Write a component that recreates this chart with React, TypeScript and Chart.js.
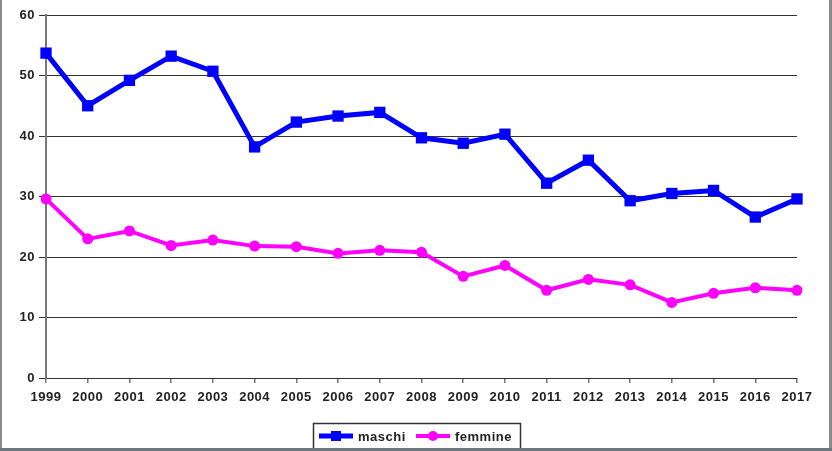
import React, { useEffect, useRef } from "react";
import { Chart, registerables } from "chart.js";

Chart.register(...registerables);

const years = ["1999","2000","2001","2002","2003","2004","2005","2006","2007","2008","2009","2010","2011","2012","2013","2014","2015","2016","2017"];
const maschi = [53.7, 45.0, 49.2, 53.2, 50.7, 38.2, 42.3, 43.3, 43.9, 39.7, 38.8, 40.3, 32.2, 36.0, 29.3, 30.5, 31.0, 26.6, 29.6];
const femmine = [29.6, 23.0, 24.3, 21.9, 22.8, 21.8, 21.7, 20.6, 21.1, 20.8, 16.8, 18.6, 14.5, 16.3, 15.4, 12.5, 14.0, 14.9, 14.5];
const yTicks = { min: 0, max: 60, step: 10 };
const seriesNames = ["maschi", "femmine"];

const FONT = "'Liberation Sans', Arial, sans-serif";

const framePlugin = {
  id: "frameAndLegend",
  beforeDraw(chart: any) {
    const ctx = chart.ctx;
    ctx.letterSpacing = "0.5px";
  },
  afterDraw(chart: any) {
    const ctx = chart.ctx;
    ctx.save();
    // legend box
    ctx.fillStyle = "#fff";
    ctx.fillRect(313, 423, 207, 26);
    ctx.strokeStyle = "#333";
    ctx.lineWidth = 1.5;
    ctx.strokeRect(313.5, 423.5, 207, 26);
    const cy = 436;
    // maschi sample
    ctx.strokeStyle = "#0000ff";
    ctx.lineWidth = 5;
    ctx.beginPath();
    ctx.moveTo(319, cy);
    ctx.lineTo(353, cy);
    ctx.stroke();
    ctx.fillStyle = "#0000ff";
    ctx.fillRect(331, cy - 5, 10, 10);
    // femmine sample
    ctx.strokeStyle = "#ff00ff";
    ctx.lineWidth = 4;
    ctx.beginPath();
    ctx.moveTo(416, cy);
    ctx.lineTo(450, cy);
    ctx.stroke();
    ctx.fillStyle = "#ff00ff";
    ctx.beginPath();
    ctx.arc(433, cy, 5, 0, Math.PI * 2);
    ctx.fill();
    ctx.fillStyle = "#222";
    ctx.font = `bold 13px ${FONT}`;
    ctx.textBaseline = "middle";
    ctx.textAlign = "left";
    ctx.letterSpacing = "0.5px";
    ctx.fillText(seriesNames[0], 358, cy + 1);
    ctx.fillText(seriesNames[1], 455, cy + 1);
    // outer frame
    ctx.fillStyle = "#8a8a8a";
    ctx.fillRect(0, 0, 2, 451);
    ctx.fillRect(829, 0, 3, 451);
    ctx.fillStyle = "#6e7680";
    ctx.fillRect(0, 448, 832, 3);
    ctx.restore();
  },
};

export default function App() {
  const ref = useRef<HTMLCanvasElement>(null);
  useEffect(() => {
    if (!ref.current) return;
    const chart = new Chart(ref.current, {
      type: "line",
      data: {
        labels: years,
        datasets: [
          {
            label: seriesNames[0],
            data: maschi,
            borderColor: "#0000ff",
            backgroundColor: "#0000ff",
            borderWidth: 5,
            pointStyle: "rect",
            pointRadius: 8,
            pointBorderWidth: 0,
            tension: 0,
          },
          {
            label: seriesNames[1],
            data: femmine,
            borderColor: "#ff00ff",
            backgroundColor: "#ff00ff",
            borderWidth: 4,
            pointStyle: "circle",
            pointRadius: 5.5,
            pointBorderWidth: 0,
            tension: 0,
          },
        ],
      },
      options: {
        responsive: false,
        animation: false,
        layout: { padding: { top: 15, right: 35, left: 0, bottom: 0 } },
        plugins: { legend: { display: false }, tooltip: { enabled: false } },
        scales: {
          x: {
            offset: false,
            afterFit: (s: any) => { s.height = 73; },
            grid: { display: true, drawOnChartArea: false, drawTicks: true, tickLength: 5, color: "#777", lineWidth: 1.5 },
            border: { display: true, color: "#333", width: 1 },
            ticks: { color: "#222", font: { family: FONT, size: 13, weight: "bold" }, padding: 7, maxRotation: 0, autoSkip: false },
          },
          y: {
            min: yTicks.min,
            max: yTicks.max,
            afterFit: (s: any) => { s.width = 46; },
            grid: { color: "#333", lineWidth: 1, tickLength: 7, drawTicks: true },
            border: { display: true, color: "#777", width: 2 },
            ticks: { stepSize: yTicks.step, color: "#222", font: { family: FONT, size: 13, weight: "bold" }, padding: 4 },
          },
        },
      },
      plugins: [framePlugin],
    });
    return () => chart.destroy();
  }, []);
  return (
    <div style={{ position: "absolute", left: 0, top: 0, width: 832, height: 451, background: "#fff" }}>
      <canvas ref={ref} width={832} height={451} style={{ display: "block" }} />
    </div>
  );
}
